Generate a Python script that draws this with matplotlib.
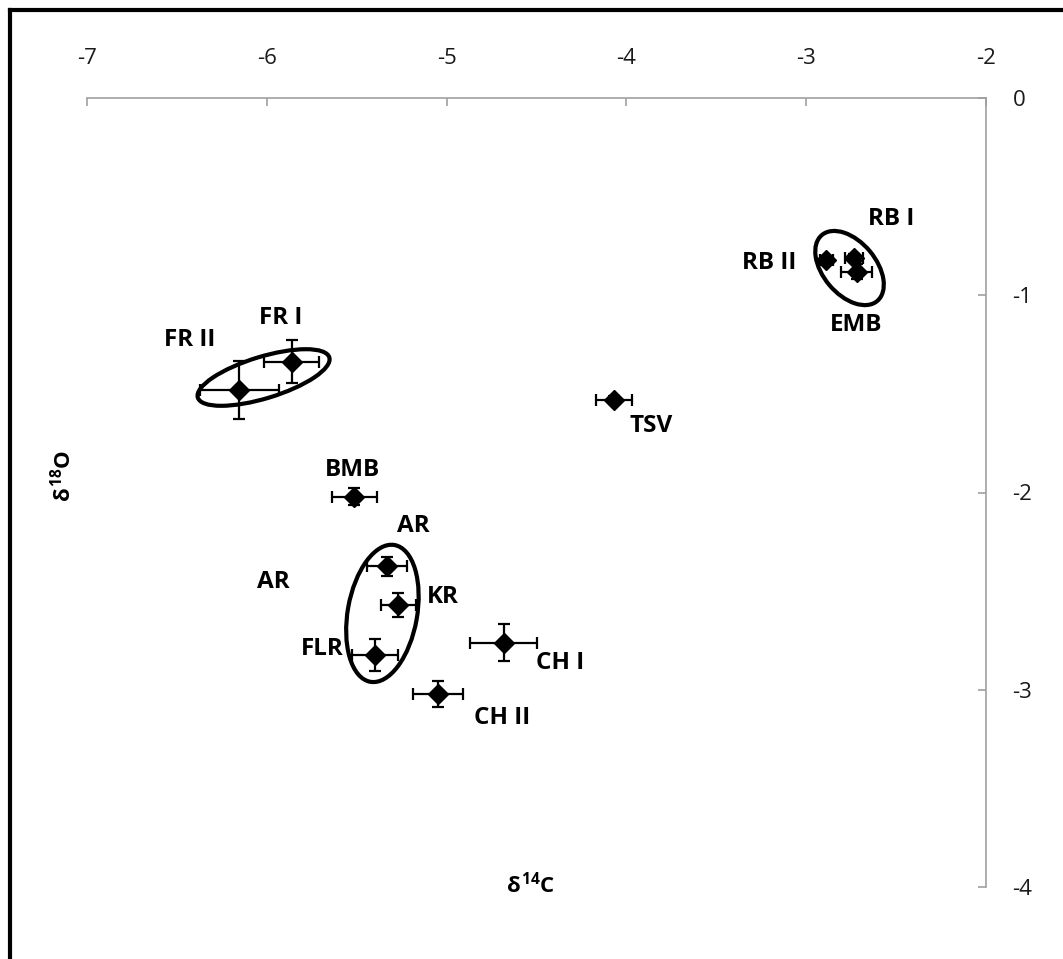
import matplotlib
matplotlib.use("Agg")
import matplotlib.pyplot as plt
from matplotlib.patches import Ellipse
from matplotlib.lines import Line2D
from matplotlib.transforms import Affine2D, ScaledTranslation

plt.rcParams["mathtext.fontset"] = "custom"
plt.rcParams["mathtext.rm"] = "Open Sans:bold"
plt.rcParams["mathtext.it"] = "Open Sans:bold"
plt.rcParams["mathtext.bf"] = "Open Sans:bold"

# ---- data ----
sites = ["RB II", "RB I", "EMB", "FR I", "FR II", "TSV", "BMB",
         "AR", "KR", "FLR", "CH I", "CH II"]
d14c = [-2.889, -2.732, -2.72, -5.861, -6.152, -4.071, -5.513,
        -5.330, -5.269, -5.398, -4.682, -5.047]
d18o = [-0.821, -0.812, -0.88, -1.336, -1.480, -1.531, -2.021,
        -2.375, -2.570, -2.823, -2.761, -3.022]
xerr = [0.037, 0.05, 0.087, 0.153, 0.222, 0.10, 0.125,
        0.111, 0.097, 0.128, 0.186, 0.139]
yerr = [0.02, 0.02, 0.037, 0.111, 0.149, 0.02, 0.042,
        0.049, 0.061, 0.081, 0.095, 0.066]

# label texts and their positions (data coords)
label_text = ["RB II", "RB I", "EMB", "FR I", "FR II", "TSV", "BMB",
              "AR", "AR", "KR", "FLR", "CH I", "CH II"]
label_x = [-3.205, -2.525, -2.72, -5.92, -6.43, -3.865, -5.525,
           -5.185, -5.962, -5.02, -5.69, -4.37, -4.69]
label_y = [-0.838, -0.614, -1.153, -1.115, -1.226, -1.662, -1.887,
           -2.170, -2.453, -2.530, -2.795, -2.862, -3.142]

# group ellipses: centre (data), width/height (points), angle (deg)
ell_cx = [-2.759, -6.018, -5.357]
ell_cy = [-0.862, -1.417, -2.613]
ell_w = [62, 99, 100]
ell_h = [38, 30, 50]
ell_ang = [-50, 17, 80]

xticks = [-7, -6, -5, -4, -3, -2]
yticks = [0, -1, -2, -3, -4]

# ---- figure ----
W, H, DPI = 1063, 959, 100
fig = plt.figure(figsize=(W / DPI, H / DPI), dpi=DPI)
fig.patch.set_facecolor("white")
ax = fig.add_axes([87 / W, 72 / H, 899 / W, 789 / H])
ax.set_xlim(-7, -2)
ax.set_ylim(-4, 0)

for s in ["left", "bottom"]:
    ax.spines[s].set_visible(False)
for s in ["top", "right"]:
    ax.spines[s].set_color("#a0a0a0")
    ax.spines[s].set_linewidth(1.2)

ax.xaxis.tick_top()
ax.yaxis.tick_right()
ax.set_xticks(xticks)
ax.set_yticks(yticks)
ax.set_xticklabels([str(v) for v in xticks])
ax.set_yticklabels([str(v) for v in yticks])
ax.tick_params(axis="x", direction="in", length=6, width=1.2, color="#a0a0a0",
               pad=21, labelsize=16, labelcolor="#1a1a1a")
ax.tick_params(axis="y", direction="in", length=6, width=1.2, color="#a0a0a0",
               pad=19, labelsize=16, labelcolor="#1a1a1a")
for lab in ax.get_xticklabels() + ax.get_yticklabels():
    lab.set_family(["Open Sans", "DejaVu Sans"])

ax.errorbar(d14c, d18o, xerr=xerr, yerr=yerr, fmt="D", color="black",
            ecolor="black", markersize=10.5, elinewidth=1.6, capsize=4.3,
            capthick=1.6, zorder=3)

for t, x, y in zip(label_text, label_x, label_y):
    ax.text(x, y, t, fontsize=17.5, fontweight="bold", ha="center", va="center",
            family=["Open Sans", "DejaVu Sans"], color="black")

scale = Affine2D().scale(DPI / 72.0)
for cx, cy, w, h, a in zip(ell_cx, ell_cy, ell_w, ell_h, ell_ang):
    tr = scale + ScaledTranslation(cx, cy, ax.transData)
    e = Ellipse((0, 0), w, h, angle=a, fill=False, edgecolor="black",
                linewidth=3, transform=tr, zorder=4)
    ax.add_patch(e)

fig.text(531 / W, 1 - 885 / H, r"$\delta^{14}$C", fontsize=16, fontweight="bold",
         ha="center", va="center", family=["Open Sans", "DejaVu Sans"])
fig.text(63 / W, 1 - 476 / H, r"$\delta^{18}$O", fontsize=16, fontweight="bold",
         ha="center", va="center", rotation=90,
         family=["Open Sans", "DejaVu Sans"])

# border (top and left visible)
fig.add_artist(Line2D([10 / W, 1.0], [1 - 10 / H, 1 - 10 / H],
                      transform=fig.transFigure, color="black", linewidth=3,
                      solid_capstyle="projecting"))
fig.add_artist(Line2D([10 / W, 10 / W], [1 - 10 / H, 0.0],
                      transform=fig.transFigure, color="black", linewidth=3,
                      solid_capstyle="projecting"))

fig.savefig("out.png", dpi=DPI, facecolor="white")
